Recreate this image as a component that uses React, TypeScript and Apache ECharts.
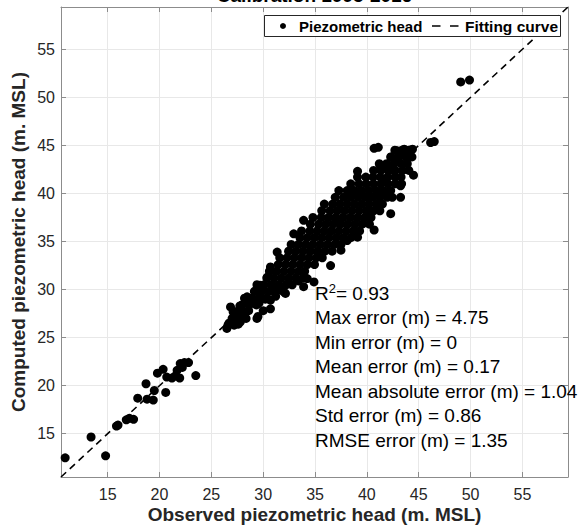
import React, { useEffect, useRef } from 'react';
import * as echarts from 'echarts';

const chartTitle = 'Calibration 1995-2016';
const xAxisTitle = 'Observed piezometric head (m. MSL)';
const yAxisTitle = 'Computed piezometric head (m. MSL)';
const legendNames = ['Piezometric head', 'Fitting curve'];
const axisMin = 10.5;
const axisMax = 59.4;

// 1:1 fitting line end points
const fitLine: number[][] = [
  [10.5, 10.5],
  [59.4, 59.4],
];

// scattered low-head points
const tailPoints: number[][] = [
  [10.9, 12.5], [13.4, 14.66], [14.8, 12.7], [15.85, 15.8], [16.0, 15.9],
  [16.8, 16.45], [17.1, 16.6], [17.5, 16.5], [17.9, 18.7], [18.7, 20.2],
  [18.8, 18.6], [19.4, 18.5], [19.5, 19.5], [19.8, 21.3], [20.35, 21.7],
  [20.6, 19.3], [20.7, 20.9], [21.2, 20.8], [21.5, 21.0], [21.95, 20.8],
  [21.7, 21.6], [22.0, 22.3], [22.4, 22.4], [22.8, 22.4], [22.2, 21.9],
  [23.5, 21.05],
];

// points on the edge of the main cloud and isolated points near it
const edgePoints: number[][] = [
  [26.5, 25.96], [26.7, 26.5], [27.0, 27.0], [26.85, 28.2], [27.3, 27.7],
  [27.8, 26.65], [27.75, 28.3], [28.45, 29.25], [28.6, 28.7], [29.25, 28.55],
  [29.4, 27.0], [29.5, 27.2], [29.4, 30.1], [29.7, 30.45], [30.7, 28.0],
  [30.7, 28.9], [31.0, 29.9], [32.15, 29.6], [31.35, 33.9], [30.7, 32.35],
  [30.4, 31.3], [32.95, 35.8], [33.9, 30.3], [34.25, 31.15], [34.9, 30.8],
  [33.9, 37.2], [36.5, 32.5], [37.5, 34.1], [38.1, 35.1], [39.1, 35.45],
  [40.7, 36.2], [40.0, 38.2], [42.3, 37.9], [43.25, 39.6], [43.25, 40.8],
  [44.5, 41.9], [39.1, 42.3], [40.7, 44.7], [41.1, 44.8], [41.3, 42.9],
  [41.95, 42.7], [42.6, 42.4], [41.6, 41.35], [42.3, 43.8], [42.9, 43.4],
  [43.6, 44.1], [42.9, 44.45], [43.6, 44.6], [44.05, 44.5], [44.4, 44.6],
  [46.15, 45.3], [46.5, 45.4], [49.05, 51.6], [49.9, 51.8],
  [30.2, 29.0], [29.6, 28.6], [28.6, 27.8], [28.0, 27.3], [27.6, 26.4],
  [31.6, 30.0], [32.5, 30.6], [33.4, 30.9], [31.2, 29.3], [30.0, 27.8],
];

// dense core of the cloud, read row by row: [computed head, observed heads]
const coreRows: [number, number[]][] = [
  [26.3, [26.6, 27.2]],
  [27.0, [27.15, 27.75, 28.35]],
  [27.7, [27.1, 27.7, 28.3]],
  [28.4, [27.95, 28.65, 29.35]],
  [29.1, [28.2, 28.9, 29.6, 30.3]],
  [29.8, [29.15, 29.85, 30.55, 31.25, 31.95]],
  [30.5, [29.4, 30.1, 30.8, 31.5, 32.2, 32.8]],
  [31.2, [30.35, 31.05, 31.75, 32.45, 33.15, 33.85]],
  [31.9, [30.6, 31.3, 32.0, 32.7, 33.4, 34.0]],
  [32.6, [31.45, 32.15, 32.85, 33.55, 34.25, 34.95]],
  [33.3, [31.6, 32.3, 33.0, 33.7, 34.4, 35.1, 35.7]],
  [34.0, [32.45, 33.15, 33.85, 34.55, 35.25, 35.95, 36.65]],
  [34.7, [32.7, 33.4, 34.1, 34.8, 35.5, 36.2, 36.9, 37.5]],
  [35.4, [33.55, 34.25, 34.95, 35.65, 36.35, 37.05, 37.75, 38.45]],
  [36.1, [33.7, 34.5, 35.2, 35.9, 36.6, 37.3, 38.0, 38.7, 39.3]],
  [36.8, [34.55, 35.35, 36.05, 36.75, 37.45, 38.15, 38.85, 39.55, 40.25]],
  [37.5, [34.8, 35.6, 36.3, 37.0, 37.7, 38.4, 39.1, 39.8, 40.4]],
  [38.2, [35.65, 36.45, 37.15, 37.85, 38.55, 39.25, 39.95, 40.65, 41.25]],
  [38.9, [35.9, 36.7, 37.4, 38.1, 38.8, 39.5, 40.2, 40.9, 41.5]],
  [39.6, [36.95, 37.75, 38.45, 39.15, 39.85, 40.55, 41.25, 41.95, 42.45]],
  [40.3, [37.3, 38.1, 38.8, 39.5, 40.2, 40.9, 41.6, 42.3]],
  [41.0, [38.45, 39.25, 39.95, 40.65, 41.35, 42.05, 42.75, 43.35]],
  [41.7, [39.1, 39.9, 40.6, 41.3, 42.0, 42.7, 43.3]],
  [42.4, [40.65, 41.35, 42.05, 42.75, 43.45, 44.05]],
  [43.1, [41.2, 41.9, 42.6, 43.3, 43.9]],
  [43.8, [42.35, 43.05, 43.75, 44.35]],
  [44.5, [42.7, 43.4, 44.1]],
];

const statLines = [
  'Max error (m) = 4.75',
  'Min error (m) = 0',
  'Mean error (m) = 0.17',
  'Mean absolute error (m) = 1.04',
  'Std error (m) = 0.86',
  'RMSE error (m) = 1.35',
];
const r2Value = '0.93';

const FONT = '"Liberation Sans", Arial, Helvetica, sans-serif';
const AXIS_COLOR = '#8c8c8c';
const LABEL_COLOR = '#262626';

export default function App() {
  const ref = useRef<HTMLDivElement>(null);

  useEffect(() => {
    if (!ref.current) return;
    const chart = echarts.init(ref.current, undefined, { renderer: 'svg' });

    const corePoints: number[][] = [];
    coreRows.forEach(([y, xs]) => xs.forEach((x) => corePoints.push([x, y])));
    const scatterData = [...tailPoints, ...edgePoints, ...corePoints];

    const fmt = (v: number) => (Math.abs(v / 5 - Math.round(v / 5)) < 1e-6 ? String(v) : '');

    const baseAxis = {
      type: 'value' as const,
      min: axisMin,
      max: axisMax,
      splitNumber: 10,
      axisLine: { show: true, onZero: false, lineStyle: { color: AXIS_COLOR, width: 1 } },
      axisTick: { show: true, inside: true, length: 5, lineStyle: { color: AXIS_COLOR, width: 1 } },
    };

    const statY0 = 293;
    const statStep = 24.5;

    chart.setOption({
      animation: false,
      backgroundColor: '#ffffff',
      grid: { left: 61, right: 15, top: 7, bottom: 52, containLabel: false },
      xAxis: [
        {
          ...baseAxis,
          position: 'bottom',
          axisLabel: { formatter: fmt, fontSize: 16, color: LABEL_COLOR, fontFamily: FONT, margin: 9, showMinLabel: false, showMaxLabel: false },
          splitLine: { show: true, lineStyle: { color: '#e8e8e8', width: 1 } },
        },
        {
          ...baseAxis,
          position: 'top',
          axisLabel: { show: false },
          splitLine: { show: false },
        },
      ],
      yAxis: [
        {
          ...baseAxis,
          position: 'left',
          axisLabel: { formatter: fmt, fontSize: 16, color: LABEL_COLOR, fontFamily: FONT, margin: 6, showMinLabel: false, showMaxLabel: false },
          splitLine: { show: true, lineStyle: { color: '#e8e8e8', width: 1 } },
        },
        {
          ...baseAxis,
          position: 'right',
          axisLabel: { show: false },
          splitLine: { show: false },
        },
      ],
      series: [
        {
          name: legendNames[0],
          type: 'scatter',
          xAxisIndex: 0,
          yAxisIndex: 0,
          data: scatterData,
          symbol: 'circle',
          symbolSize: 9,
          itemStyle: { color: '#000000', opacity: 1 },
          z: 3,
        },
        {
          name: legendNames[1],
          type: 'line',
          xAxisIndex: 0,
          yAxisIndex: 0,
          data: fitLine,
          symbol: 'none',
          lineStyle: { color: '#000000', width: 1.6, type: [7, 5] },
          z: 4,
        },
      ],
      graphic: [
        {
          type: 'text',
          x: 314.5,
          y: -4.6,
          style: { text: chartTitle, font: `bold 19px ${FONT}`, fill: '#000', align: 'center', verticalAlign: 'middle' },
          z: 10,
        },
        {
          type: 'text',
          x: 314.5,
          y: 514,
          style: { text: xAxisTitle, font: `bold 19px ${FONT}`, fill: LABEL_COLOR, align: 'center', verticalAlign: 'middle' },
        },
        {
          type: 'text',
          x: 18,
          y: 242,
          rotation: Math.PI / 2,
          style: { text: yAxisTitle, font: `bold 19px ${FONT}`, fill: LABEL_COLOR, align: 'center', verticalAlign: 'middle' },
        },
        // legend
        {
          type: 'rect',
          shape: { x: 264.5, y: 15.5, width: 296, height: 21 },
          style: { fill: '#ffffff', stroke: '#262626', lineWidth: 1 },
          z: 10,
        },
        {
          type: 'circle',
          shape: { cx: 283, cy: 26, r: 3 },
          style: { fill: '#000000' },
          z: 11,
        },
        {
          type: 'text',
          x: 299,
          y: 26,
          style: { text: legendNames[0], font: `bold 15px ${FONT}`, fill: '#000', align: 'left', verticalAlign: 'middle' },
          z: 11,
        },
        {
          type: 'line',
          shape: { x1: 432, y1: 26, x2: 458.5, y2: 26 },
          style: { stroke: '#000', lineWidth: 1.6, lineDash: [8.5, 9.5] },
          z: 11,
        },
        {
          type: 'text',
          x: 465,
          y: 26,
          style: { text: legendNames[1], font: `bold 15.5px ${FONT}`, fill: '#000', align: 'left', verticalAlign: 'middle' },
          z: 11,
        },
        // statistics
        {
          type: 'text',
          x: 315,
          y: statY0,
          style: {
            text: `{a|R}{s|2}{a|= ${r2Value}}`,
            verticalAlign: 'middle',
            align: 'left',
            rich: {
              a: { fontSize: 19, fontFamily: FONT, fill: '#000', color: '#000', lineHeight: 22 },
              s: { fontSize: 13, fontFamily: FONT, fill: '#000', color: '#000', verticalAlign: 'top', lineHeight: 13 },
            },
          },
          z: 10,
        },
        ...statLines.map((t, i) => ({
          type: 'text',
          x: 315,
          y: statY0 + statStep * (i + 1),
          style: { text: t, font: `19px ${FONT}`, fill: '#000', align: 'left', verticalAlign: 'middle' },
          z: 10,
        })),
      ],
    });

    return () => chart.dispose();
  }, []);

  return (
    <div
      ref={ref}
      style={{ position: 'fixed', left: 0, top: 0, width: 583, height: 529, background: '#fff' }}
    />
  );
}
